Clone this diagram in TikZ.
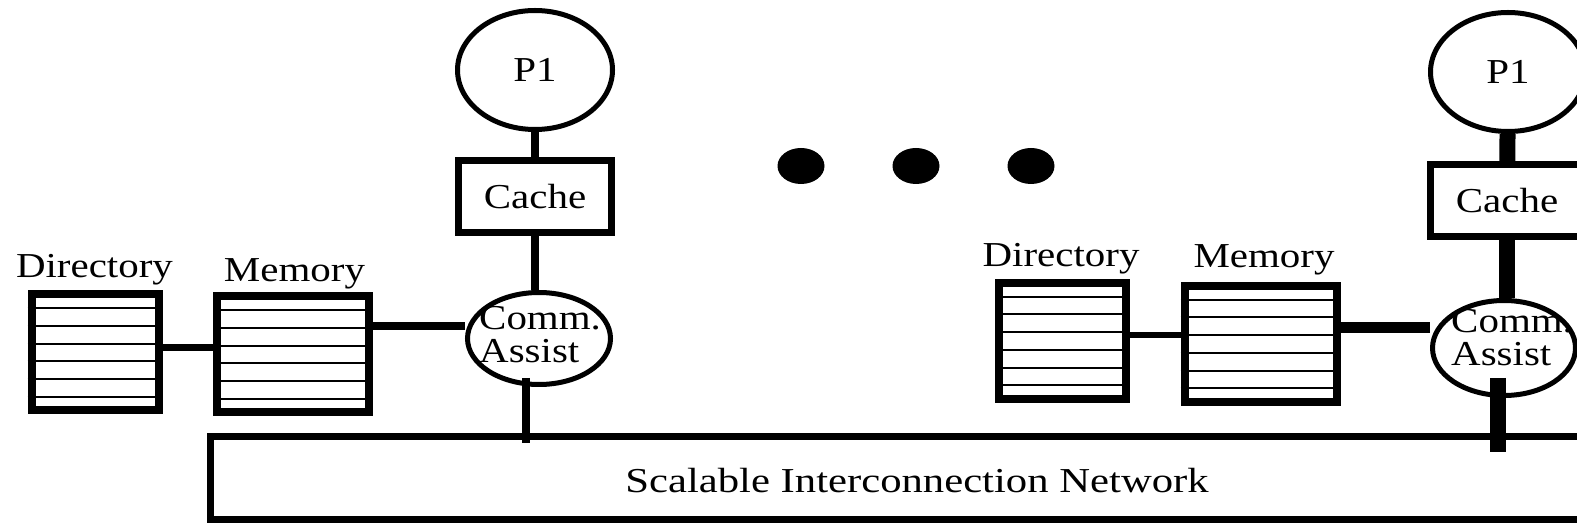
\documentclass[tikz,border=0pt]{standalone}
\usepackage{fontspec}
\setmainfont{Liberation Serif}
\usepackage{graphicx}
\usepackage{tikz}
\usetikzlibrary{shapes,calc,positioning}
\newcommand{\wtxt}[2][1.17]{\scalebox{#1}[1]{#2}}
\newcommand{\commtxt}{\wtxt{\begin{tabular}{@{}l@{}}Comm.\\Assist\end{tabular}}}

\begin{document}
\begin{tikzpicture}[x=1pt,y=-1pt,
                          lbl/.style={inner sep=0pt, font=\fontsize{35}{32}\selectfont},
                          commlbl/.style={inner sep=0pt, anchor=west, font=\fontsize{35}{32}\selectfont},
                          proc/.style={ellipse, draw, line width=5pt, minimum width=155pt, minimum height=119pt, inner sep=0pt, font=\fontsize{35}{32}\selectfont},
                          cachebox/.style={rectangle, draw, line width=7pt, minimum width=153pt, minimum height=72pt, inner sep=0pt, font=\fontsize{35}{32}\selectfont},
                          assist/.style={ellipse, draw, line width=5pt, minimum width=143pt, inner sep=0pt},
                          dirbox/.style={rectangle, draw, line width=8pt, minimum width=127pt, minimum height=116pt},
                          membox/.style={rectangle, draw, line width=8pt, minimum width=152pt, minimum height=116pt},
                          netbox/.style={rectangle, draw, line width=7pt, minimum height=83pt},
                          link/.style={line width=8pt},
                          fatlink/.style={line width=16pt},
                          row/.style={line width=2pt},
                          dot/.style={ellipse, fill, minimum width=47pt, minimum height=36pt, inner sep=0pt},
                         ]

\useasboundingbox (0,0) rectangle (1577,526);
\clip (0,0) rectangle (1577,526);

% network
\node[netbox, minimum width=1486pt] (net) at (953.5,478) {};
\node[lbl, anchor=base] (netl) at (917,492) {\wtxt[1.22]{Scalable Interconnection Network}};

% left node
\node[proc] (p1) at (535,70) {\wtxt{P1}};
\node[cachebox] (c1) at (535,197) {\wtxt{Cache}};
\node[assist, minimum height=92pt] (ca1) at (539,338.5) {};
\node[commlbl] (ca1l) at (479,339.6) {\commtxt};
\node[dirbox] (dir1) at (95,352.5) {};
\node[membox] (mem1) at (293,354.5) {};
\node[lbl, anchor=base] (dir1l) at (94.5,278) {\wtxt{Directory}};
\node[lbl, anchor=base] (mem1l) at (294.5,282) {\wtxt{Memory}};

% right node
\node[proc] (p2) at (1508,72) {\wtxt{P1}};
\node[cachebox] (c2) at (1507,201) {\wtxt{Cache}};
\node[assist, minimum height=95pt] (ca2) at (1504,348) {};
\node[commlbl] (ca2l) at (1451,342.6) {\commtxt};
\node[dirbox] (dir2) at (1062.5,341) {};
\node[membox] (mem2) at (1260.5,344) {};
\node[lbl, anchor=base] (dir2l) at (1061,267) {\wtxt{Directory}};
\node[lbl, anchor=base] (mem2l) at (1264,268) {\wtxt{Memory}};

\foreach \b in {dir1,mem1,dir2,mem2}
  \foreach \i in {1,...,6}
    \draw[row] ($(\b.north west)!\i/7!(\b.south west)$) -- ($(\b.north east)!\i/7!(\b.south east)$);

% dots
\node[dot] (d1) at (801,166) {};
\node[dot] (d2) at (916,166) {};
\node[dot] (d3) at (1031,166) {};

% links
\coordinate (s1) at (526,378);
\coordinate (s1e) at (526,443);
\coordinate (s2) at (1498,378);
\coordinate (s2e) at (1498,452);

\draw[link] (p1) -- (c1);
\draw[link] (c1.south) -- (c1.south |- ca1.north);
\draw[line width=7pt] ([yshift=4.5pt]dir1.east) -- ([yshift=4.5pt]dir1.east -| mem1.west);
\draw[link] ([yshift=28.5pt]mem1.east) -- ([yshift=28.5pt]mem1.east -| ca1.west);
\draw[link] (s1) -- (s1e);

\draw[fatlink] (p2) -- (c2);
\draw[fatlink] (c2.south) -- (c2.south |- ca2.north);
\draw[line width=6pt] ([yshift=6pt]dir2.east) -- ([yshift=6pt]dir2.east -| mem2.west);
\draw[line width=11pt] ([yshift=16pt]mem2.east) -- ([yshift=16pt]mem2.east -| ca2.west);
\draw[fatlink] (s2) -- (s2e);

\end{tikzpicture}
\end{document}
